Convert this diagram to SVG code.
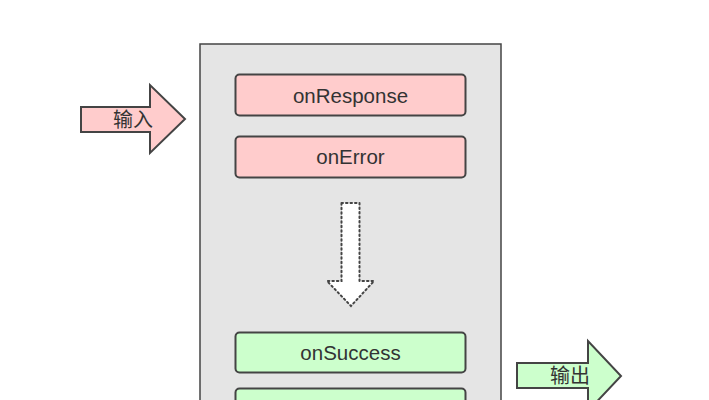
<svg xmlns="http://www.w3.org/2000/svg" width="709" height="400" viewBox="0 0 709 400">
<style>
.box{stroke:#444;stroke-width:2}
.red{fill:#ffcccc}
.green{fill:#ccffcc}
.t{font-family:"Liberation Sans","Noto Sans CJK SC",sans-serif;font-size:20.5px;fill:#333;text-anchor:middle;dominant-baseline:central}
.c{font-family:"Noto Sans CJK SC",sans-serif;font-size:20px;fill:#333;text-anchor:middle;dominant-baseline:central}
</style>
<rect width="709" height="400" fill="#fff"/>
<g id="container"><rect x="200" y="44" width="301" height="370" fill="#e5e5e5" stroke="#444" stroke-width="1.5"/></g>
<g id="onResponse"><rect class="box red" x="235.5" y="74.5" width="230" height="41" rx="4"/><text class="t" x="350.5" y="95">onResponse</text></g>
<g id="onError"><rect class="box red" x="235.5" y="136.5" width="230" height="41" rx="4"/><text class="t" x="350.5" y="156">onError</text></g>
<g id="onSuccess"><rect class="box green" x="235.5" y="332.5" width="230" height="40" rx="4"/><text class="t" x="350.5" y="352">onSuccess</text></g>
<g id="bottomBox"><rect class="box green" x="235.5" y="388.5" width="230" height="40" rx="4"/></g>
<g id="input"><polygon class="box red" points="81,107 150,107 150,85 185,119 150,153 150,132 81,132"/><text class="c" x="133" y="118">输入</text></g>
<g id="output"><polygon class="box green" points="517,363 588,363 588,341 621,376 588,411 588,388 517,388"/><text class="c" x="570" y="374">输出</text></g>
<g id="connectors"><polygon points="341.5,203 359.5,203 359.5,281 374,281 351,306 327,281 341.5,281" fill="#fff" stroke="#444" stroke-width="2" stroke-dasharray="1.5 3" stroke-linecap="round"/></g>
</svg>
